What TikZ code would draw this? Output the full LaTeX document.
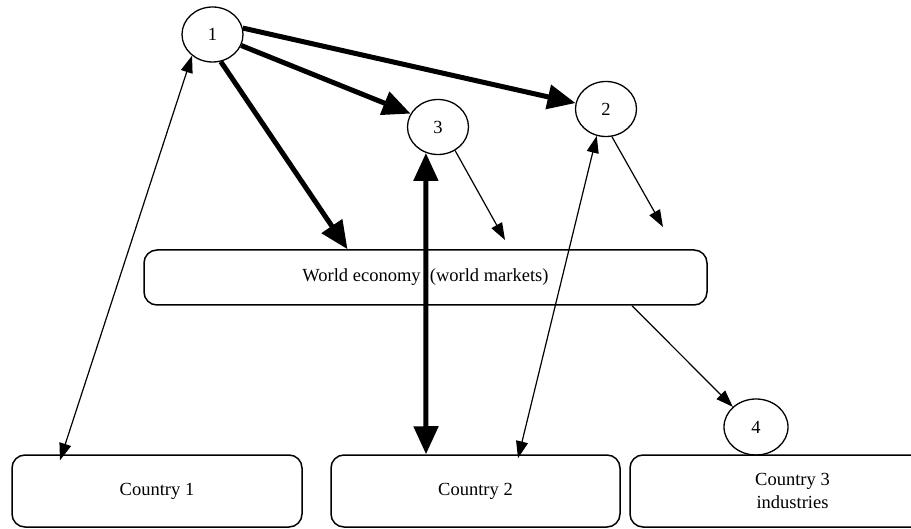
\documentclass[tikz,border=0pt]{standalone}
\usepackage{fontspec}
\setmainfont{Liberation Serif}
\usepackage{xcolor}
\usetikzlibrary{arrows.meta, positioning, shapes.geometric}

\begin{document}
\begin{tikzpicture}[x=1pt, y=-1pt,
    font=\fontsize{18.5}{23}\selectfont,
    bubble/.style={draw, ellipse, line width=1.3pt, inner sep=0pt, minimum width=61pt, minimum height=55pt},
    cbox/.style={draw, rounded corners=13pt, line width=1.5pt, minimum height=72pt, align=center},
    thickarr/.style={line width=5pt, -{Triangle[length=28pt, width=24pt]}},
    thinarr/.style={line width=1.2pt, -{Triangle[length=17pt, width=12pt]}}]
      \useasboundingbox (0,0) rectangle (911,529);

      % Numbered circles
      \node[bubble] (c1) at (212.5,34.5) {1};
      \node[bubble] (c3) at (438,127) {3};
      \node[bubble] (c2) at (606,109) {2};
      \node[bubble, minimum width=64pt, minimum height=56pt] (c4) at (756,427) {4};

      % World economy box
      \node[cbox, minimum width=563pt, minimum height=55pt] (we) at (425.5,277.5) {World economy \ (world markets)};

      % Country boxes
      \node[cbox, minimum width=290pt] (k1) at (157,491) {Country 1};
      \node[cbox, minimum width=289pt] (k2) at (475.5,491) {\raisebox{-6pt}{Country 2}};
      \node[cbox, minimum width=325pt] (k3) at (792.5,491) {Country 3\\industries};

      % Free ends of the short arrows
      \coordinate (f3) at (505,240);
      \coordinate (f2) at (663,227);

      % Thick arrows from circle 1
      \draw[thickarr] (c1.12) -- (c2.169);
      \draw[thickarr] (c1.-21) -- (c3.154);
      \draw[thickarr] (c1.-73) -- ([xshift=-78pt]we.north);

      % Thick double arrow between circle 3 and country 2
      \draw[thickarr, {Triangle[length=28pt, width=24pt]}-{Triangle[length=28pt, width=24pt]}] (c3.-115) -- ([xshift=-49.5pt]k2.north);

      % Thin arrows
      \draw[thinarr] (c3.-54) -- (f3);
      \draw[thinarr] (c2.-78) -- (f2);
      \draw[thinarr, {Triangle[length=17pt, width=12pt]}-{Triangle[length=17pt, width=12pt]}] (c1.-134) -- ([xshift=-97pt, yshift=-6pt]k1.north);
      \draw[thinarr, {Triangle[length=17pt, width=12pt]}-{Triangle[length=17pt, width=12pt]}] (c2.-109) -- ([xshift=42.5pt, yshift=-4pt]k2.north);
      \draw[thinarr] ([xshift=206.5pt]we.south) -- (c4.139);

    \end{tikzpicture}
\end{document}
